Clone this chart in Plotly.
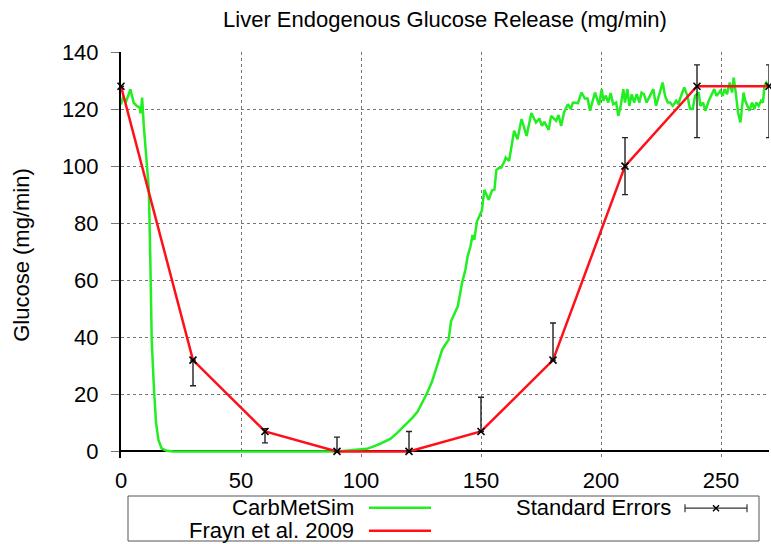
import plotly.graph_objects as go

# ---------------- data ----------------
sim_t = [0, 0.8, 2.2, 3.9, 5.3, 6.7, 7.8, 8.1, 8.4, 8.8, 9.5, 10.5, 11.6, 12.2, 12.8, 13.75, 14.6, 15.6, 16.9, 19, 22,
         90, 95, 100, 102.5, 105.3, 108, 112.2, 115, 117.8, 121.3, 123.6, 125.4, 127.5, 129.6, 131, 132.4, 133.8, 135.1,
         136.5, 137.5, 138.9, 140.3, 142.1, 143.5, 144.4, 145.6, 146.5, 147.2, 148.3, 149.3, 150.4, 151.4, 153.2, 154.6,
         155.6, 156.4, 157.4, 158.4, 159.7, 160.3, 161.7, 163.8, 165.2, 166.9, 169, 171, 172.9, 174.3, 175.4, 176.4,
         178.2, 179.2, 181.3, 182.3, 183.4, 184.6, 186.2, 187.4, 188.3, 190.4, 191.9, 193.3, 194.4, 195.4, 197.5, 199.2,
         200.3, 201, 202, 203, 204, 205.1, 206.3, 207.2, 208.2, 209.3, 210, 211, 211.8, 212.8, 213.8, 214.9, 216, 216.9,
         217.9, 219, 220.4, 221.8, 222.9, 224.3, 225.7, 226.7, 227.8, 228.8, 229.9, 231.3, 232.2, 233.6, 234.7, 236,
         237.1, 238.2, 239.2, 240.7, 241.4, 242.5, 243.5, 244.9, 246.3, 247.2, 248.1, 249, 249.7, 250.7, 251.5, 252.5,
         253.6, 254.6, 255.3, 256.3, 257.1, 258.1, 258.8, 259.4, 260.1, 261.1, 261.9, 262.9, 263.9, 264.7, 265.7, 266.7,
         267.5, 268.1, 268.9, 270]
sim_glucose = [121.6, 124, 122.8, 126.9, 122.2, 121, 120.5, 118.5, 119.9, 124, 114, 103, 91.8, 68, 39, 21.6, 10, 4, 1.1, 0.2, 0,
               0, 0.3, 0.6, 0.9, 1.8, 2.7, 4.4, 6.4, 8.8, 11.7, 14, 16.9, 20.4, 24.5, 28, 32.1, 35.6, 37.4,
               39.1, 45.6, 48.5, 50.8, 59, 63.7, 68.3, 71.8, 75.9, 74.2, 80.6, 82.4, 84.5, 91.7, 88.2, 91.5,
               91.8, 98.7, 99.3, 99.5, 101.5, 103, 101.8, 112.4, 109.4, 116.5, 110.6, 118.6, 115.3, 116.7, 114.1, 115.5,
               112.7, 117.6, 115.9, 117.9, 114.1, 118.8, 121.7, 120, 122.3, 122.1, 125.8, 123.7, 123.7, 119.4, 125.8, 121.4,
               127, 122.9, 124.7, 122.3, 125.6, 121.7, 122.3, 117.6, 121.1, 127, 122.3, 127, 121.1, 125.2, 122.3, 125.2, 122.3, 125.8,
               125.2, 122.3, 124.6, 127, 121.1, 125.2, 129.3, 124.6, 122.3, 122.3, 121.1, 122.9, 121.7, 125.2, 127.6, 124.6,
               120, 120, 124.6, 125.8, 121.1, 122.3, 119.4, 122.9, 125.2, 127, 124.6, 125.8, 126.4, 124.6, 127, 125.2,
               129.3, 125.8, 131, 124.6, 118.8, 115.3, 121.1, 125.8, 122.9, 121.1, 119.4, 122.3, 120, 122.3, 121.1, 122.9,
               122.3, 128.2, 129.3, 128]

frayn_t = [0, 30, 60, 90, 120, 150, 180, 210, 240, 270]
frayn_glucose = [128, 32, 7, 0, 0, 7, 32, 100, 128, 128]
err_plus = [0, 0, 1, 5, 7, 12, 13, 10, 7.5, 7.5]
err_minus = [0, 9, 4, 0, 0, 0, 0, 10, 18, 18]

x_ticks = [0, 50, 100, 150, 200, 250]
y_ticks = [0, 20, 40, 60, 80, 100, 120, 140]

title_text = "Liver Endogenous Glucose Release (mg/min)"
y_title = "Glucose (mg/min)"
legend_labels = ["CarbMetSim", "Frayn et al. 2009", "Standard Errors"]

# ---------------- style ----------------
FONT = "Liberation Sans"
FS = 22
GREEN = "#22ee22"
RED = "#ff1018"
W, H = 771, 544
L, R, T, B = 121, 769, 52, 458   # plot area in pixels


def px(x):
    return (x - L) / (R - L)


def py(y):
    return (B - y) / (B - T)


fig = go.Figure()
fig.add_trace(go.Scatter(x=sim_t, y=sim_glucose, mode="lines",
                         line=dict(color=GREEN, width=2.5), showlegend=False))
fig.add_trace(go.Scatter(x=frayn_t, y=frayn_glucose, mode="lines",
                         line=dict(color=RED, width=2.5), showlegend=False, cliponaxis=False))
fig.add_trace(go.Scatter(x=frayn_t, y=frayn_glucose, mode="markers", cliponaxis=False,
                         marker=dict(symbol="x-thin", size=7, color="black",
                                     line=dict(width=1.6, color="black")),
                         error_y=dict(type="data", symmetric=False, array=err_plus,
                                      arrayminus=err_minus, color="#222222",
                                      thickness=1.4, width=3),
                         showlegend=False))

grid = dict(showgrid=True, gridcolor="#777777", griddash="dot", gridwidth=1)

fig.update_layout(
    width=W, height=H,
    margin=dict(l=L, r=W - R, t=T, b=H - B, pad=0),
    paper_bgcolor="white", plot_bgcolor="white",
    font=dict(family=FONT, size=FS, color="black"),
    title=dict(text=title_text, x=0.5, xref="paper", xanchor="center",
               y=1 - 19 / H, yref="container", yanchor="middle",
               font=dict(family=FONT, size=FS, color="black")),
    xaxis=dict(range=[0, 270], tickvals=x_ticks, ticks="", showline=False,
               zeroline=False, ticklabelstandoff=7, **grid),
    yaxis=dict(range=[-2.3, 140], tickvals=y_ticks, ticks="outside", ticklen=8,
               tickcolor="#777777", tickwidth=1, showline=True, linecolor="black",
               linewidth=2, zeroline=True, zerolinecolor="black", zerolinewidth=2,
               ticklabelstandoff=8,
               title=dict(text=y_title, standoff=26, font=dict(family=FONT, size=FS)),
               **grid),
    showlegend=False,
)

# ---------------- hand-built legend (gnuplot style) ----------------
shapes = []
annotations = []
shapes.append(dict(type="rect", xref="paper", yref="paper",
                   x0=px(128), x1=px(759), y0=py(496), y1=py(541),
                   line=dict(color="#555555", width=1), fillcolor="rgba(0,0,0,0)"))
row1, row2 = 507.7, 530.7
for label, xr, yr in ((legend_labels[0], 356, row1), (legend_labels[1], 356, row2),
                      (legend_labels[2], 673, row1)):
    annotations.append(dict(text=label, xref="paper", yref="paper", x=px(xr), y=py(yr),
                            xanchor="right", yanchor="middle", showarrow=False,
                            font=dict(family=FONT, size=FS, color="black")))
shapes.append(dict(type="line", xref="paper", yref="paper", x0=px(369), x1=px(431),
                   y0=py(row1), y1=py(row1), line=dict(color=GREEN, width=2.5)))
shapes.append(dict(type="line", xref="paper", yref="paper", x0=px(369), x1=px(431),
                   y0=py(row2), y1=py(row2), line=dict(color=RED, width=2.5)))
# error-bar sample
ey = row1 + 0.5
shapes.append(dict(type="line", xref="paper", yref="paper", x0=px(685), x1=px(747),
                   y0=py(ey), y1=py(ey), line=dict(color="#333333", width=1.2)))
for cx in (685, 747):
    shapes.append(dict(type="line", xref="paper", yref="paper", x0=px(cx), x1=px(cx),
                       y0=py(ey - 4), y1=py(ey + 4), line=dict(color="#333333", width=1.2)))
for d in (-1, 1):
    shapes.append(dict(type="line", xref="paper", yref="paper", x0=px(716 - 3), x1=px(716 + 3),
                       y0=py(ey - 3 * d), y1=py(ey + 3 * d), line=dict(color="black", width=1.4)))

fig.update_layout(shapes=shapes, annotations=annotations)

fig.write_html("out.html")
